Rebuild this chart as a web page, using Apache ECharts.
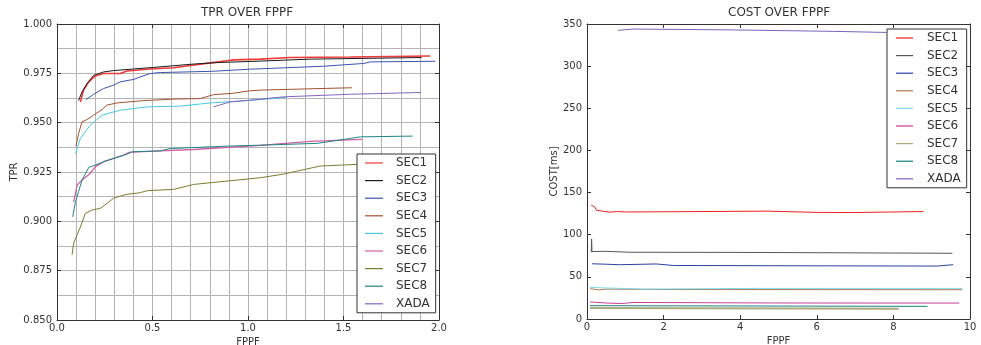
<!DOCTYPE html>
<html>
<head>
<meta charset="utf-8">
<title>TPR / COST over FPPF</title>
<script src="https://cdn.jsdelivr.net/npm/echarts@6/dist/echarts.min.js"></script>
<style>
  html, body { margin: 0; padding: 0; background: #fff; }
  #chart { width: 981px; height: 345px; }
</style>
</head>
<body>
<div id="chart"></div>
<script>
// ---- series names ----
const seriesNames = ['SEC1', 'SEC2', 'SEC3', 'SEC4', 'SEC5', 'SEC6', 'SEC7', 'SEC8', 'XADA'];

// ---- TPR over FPPF : [FPPF, TPR] ----
const tprSec1 = [[0.122,0.9605],[0.139,0.9665],[0.166,0.9707],[0.2,0.9737],[0.244,0.9749],[0.331,0.9749],[0.366,0.9762],[0.488,0.9772],[0.61,0.9778],[0.7,0.979],[0.803,0.9803],[0.89,0.9814],[0.925,0.9818],[1.064,0.9822],[1.221,0.983],[1.536,0.9833],[1.954,0.9838]];
const tprSec2 = [[0.113,0.9612],[0.131,0.9656],[0.157,0.9698],[0.192,0.974],[0.244,0.9757],[0.296,0.9764],[0.401,0.9772],[0.506,0.978],[0.715,0.9797],[0.85,0.9805],[1.064,0.9812],[1.326,0.9822],[1.909,0.983]];
const tprSec3 = [[0.152,0.9617],[0.192,0.9644],[0.244,0.9673],[0.296,0.969],[0.331,0.9707],[0.401,0.9719],[0.445,0.9735],[0.488,0.9749],[0.541,0.9754],[0.803,0.976],[1.012,0.9771],[1.396,0.9786],[1.606,0.98],[1.641,0.9808],[1.981,0.9811]];
const tprSec4 = [[0.099,0.9381],[0.113,0.9445],[0.131,0.9504],[0.157,0.9516],[0.192,0.9538],[0.236,0.9567],[0.262,0.9589],[0.314,0.96],[0.454,0.9612],[0.628,0.962],[0.75,0.9622],[0.82,0.9642],[0.925,0.9649],[0.995,0.966],[1.064,0.9665],[1.544,0.9677]];
const tprSec5 = [[0.097,0.9344],[0.122,0.942],[0.174,0.9487],[0.236,0.9538],[0.279,0.955],[0.331,0.9563],[0.471,0.958],[0.646,0.9584],[0.803,0.96],[1.0,0.9612],[1.2,0.9628]];
const tprSec6 = [[0.087,0.9099],[0.097,0.9142],[0.105,0.9184],[0.131,0.9209],[0.174,0.9243],[0.2,0.9276],[0.244,0.9302],[0.296,0.9319],[0.349,0.9336],[0.375,0.9349],[0.419,0.9352],[0.541,0.9357],[0.715,0.9364],[1.064,0.9385],[1.326,0.9405],[1.597,0.9415]];
const tprSec7 = [[0.079,0.883],[0.087,0.8889],[0.105,0.8931],[0.122,0.897],[0.148,0.904],[0.183,0.9057],[0.227,0.9066],[0.262,0.9091],[0.296,0.9117],[0.331,0.9128],[0.366,0.9137],[0.436,0.9145],[0.471,0.9155],[0.61,0.9162],[0.715,0.9187],[0.89,0.9204],[1.064,0.9221],[1.185,0.9239],[1.376,0.928],[1.603,0.929],[1.75,0.9295]];
const tprSec8 = [[0.082,0.9023],[0.097,0.9099],[0.113,0.915],[0.131,0.9209],[0.166,0.9273],[0.2,0.9285],[0.244,0.9302],[0.314,0.9324],[0.366,0.934],[0.392,0.9352],[0.541,0.9357],[0.593,0.9369],[0.89,0.9381],[1.064,0.9386],[1.361,0.9395],[1.536,0.942],[1.588,0.9428],[1.862,0.9432]];
const tprXada = [[0.819,0.958],[0.906,0.9605],[1.012,0.9614],[1.187,0.9631],[1.536,0.9644],[1.906,0.9653]];

// ---- COST over FPPF : [FPPF, cost in ms] ----
const costSec1 = [[0.11,135],[0.13,134],[0.16,135.5],[0.2,133],[0.24,133],[0.25,129],[0.4,128],[0.6,126.8],[0.8,127.5],[1.0,127],[2.0,127.2],[4.7,128],[6.0,126.5],[6.9,126.3],[8.78,127.5]];
const costSec2 = [[0.11,79],[0.12,95],[0.13,80],[0.16,81],[0.5,80.3],[1.1,79.2],[4.0,79],[9.54,78]];
const costSec3 = [[0.13,65.5],[0.5,65],[0.85,64.4],[1.81,65.3],[2.25,63.5],[4.77,63.2],[9.13,62.8],[9.56,64.4]];
const costSec4 = [[0.08,36],[0.3,34.5],[0.5,35.5],[2.0,35],[9.8,34.7]];
const costSec5 = [[0.08,37.5],[0.5,36.8],[1.5,35.5],[4.5,36.3],[9.8,36.3]];
const costSec6 = [[0.08,20.2],[0.5,19],[0.9,18.3],[1.2,19.6],[5.0,19],[9.72,18.9]];
const costSec7 = [[0.08,13],[8.14,12.2]];
const costSec8 = [[0.08,15.8],[8.89,15]];
const costXada = [[0.81,342.5],[1.2,344],[3.8,343],[6.4,341.3],[7.8,340],[9.5,339]];

// ---- colours ----
const tprColors  = ['#f03a3a', '#1a1a1a', '#3a52b0', '#a0522d', '#48c8dc', '#d060a8', '#7c7c30', '#1f8585', '#8064c0'];
const costColors = ['#ee1c1c', '#555555', '#2a3fa0', '#b0764e', '#7adcec', '#c83c98', '#aaaa7a', '#178080', '#7a62bc'];
const tprWidths  = [1.6, 1, 1, 1, 1, 1.3, 1, 1, 1];
const costWidths = [1, 1, 1, 1, 1, 1, 2, 1, 1];

const tprData  = [tprSec1, tprSec2, tprSec3, tprSec4, tprSec5, tprSec6, tprSec7, tprSec8, tprXada];
const costData = [costSec1, costSec2, costSec3, costSec4, costSec5, costSec6, costSec7, costSec8, costXada];

const FONT = 'DejaVu Sans';
const TXT = '#333';
const FRAME = '#333';

function frameAxis(common, extra) {
  return Object.assign({
    axisLine: { show: true, onZero: false, lineStyle: { color: FRAME, width: 1 } },
    axisTick: { show: true, inside: true, length: 4, lineStyle: { color: FRAME } },
    axisLabel: { show: false },
    splitLine: { show: false }
  }, common, extra);
}

const tprX = { type: 'value', min: 0, max: 2, interval: 0.5 };
const tprY = { type: 'value', min: 0.85, max: 1.0, interval: 0.025 };
const costX = { type: 'value', min: 0, max: 10, interval: 2 };
const costY = { type: 'value', min: 0, max: 350, interval: 50 };

const gridLine = { show: true, lineStyle: { color: '#b4b4b4', width: 1 } };

function legendData(colors) {
  return seriesNames.map((n, i) => ({ name: n, itemStyle: { color: colors[i] } }));
}

const option = {
  animation: false,
  textStyle: { fontFamily: FONT },
  title: [
    { text: 'TPR OVER FPPF', left: 201, top: 7, padding: 0,
      textStyle: { fontFamily: FONT, fontSize: 12, fontWeight: 'normal', color: TXT } },
    { text: 'COST OVER FPPF', left: 728, top: 7, padding: 0,
      textStyle: { fontFamily: FONT, fontSize: 12, fontWeight: 'normal', color: TXT } }
  ],
  grid: [
    { left: 57, right: 542, top: 24, bottom: 25, outerBoundsMode: 'none', containLabel: false },
    { left: 587, right: 11, top: 24, bottom: 26, outerBoundsMode: 'none', containLabel: false }
  ],
  xAxis: [
    frameAxis(tprX, {
      gridIndex: 0, position: 'bottom',
      name: 'FPPF', nameLocation: 'middle', nameGap: 16,
      nameTextStyle: { fontFamily: FONT, fontSize: 10, color: TXT },
      axisLabel: { show: true, margin: 3, fontFamily: FONT, fontSize: 10, color: TXT,
                   formatter: v => v.toFixed(1) },
      splitLine: gridLine,
      minorTick: { show: false, splitNumber: 5 },
      minorSplitLine: gridLine
    }),
    frameAxis(tprX, { gridIndex: 0, position: 'top' }),
    frameAxis(costX, {
      gridIndex: 1, position: 'bottom',
      name: 'FPPF', nameLocation: 'middle', nameGap: 16,
      nameTextStyle: { fontFamily: FONT, fontSize: 10, color: TXT },
      axisLabel: { show: true, margin: 3, fontFamily: FONT, fontSize: 10, color: TXT }
    }),
    frameAxis(costX, { gridIndex: 1, position: 'top' })
  ],
  yAxis: [
    frameAxis(tprY, {
      gridIndex: 0, position: 'left',
      name: 'TPR', nameLocation: 'middle', nameGap: 36,
      nameTextStyle: { fontFamily: FONT, fontSize: 10, color: TXT },
      axisLabel: { show: true, margin: 5, fontFamily: FONT, fontSize: 10, color: TXT,
                   formatter: v => v.toFixed(3) },
      splitLine: gridLine,
      minorTick: { show: false, splitNumber: 2 },
      minorSplitLine: gridLine
    }),
    frameAxis(tprY, { gridIndex: 0, position: 'right' }),
    frameAxis(costY, {
      gridIndex: 1, position: 'left',
      name: 'COST[ms]', nameLocation: 'middle', nameGap: 26,
      nameTextStyle: { fontFamily: FONT, fontSize: 10, color: TXT },
      axisLabel: { show: true, margin: 5, fontFamily: FONT, fontSize: 10, color: TXT }
    }),
    frameAxis(costY, { gridIndex: 1, position: 'right' })
  ],
  legend: [
    {
      orient: 'vertical', left: 357, top: 154,
      padding: [2, 6, 2, 8], itemGap: 3.6,
      itemWidth: 18, itemHeight: 1.2, icon: 'rect',
      backgroundColor: '#fff', borderColor: FRAME, borderWidth: 1, borderRadius: 0,
      textStyle: { fontFamily: FONT, fontSize: 12, color: TXT, lineHeight: 14, padding: [0, 0, 0, 8] },
      data: legendData(tprColors)
    },
    {
      orient: 'vertical', left: 887, top: 29,
      padding: [2, 6, 2, 9], itemGap: 3.6,
      itemWidth: 17, itemHeight: 1.2, icon: 'rect',
      backgroundColor: '#fff', borderColor: FRAME, borderWidth: 1, borderRadius: 0,
      textStyle: { fontFamily: FONT, fontSize: 12, color: TXT, lineHeight: 14, padding: [0, 0, 0, 9] },
      data: legendData(costColors)
    }
  ],
  series: []
};

seriesNames.forEach((name, i) => {
  option.series.push({
    name, type: 'line', xAxisIndex: 0, yAxisIndex: 0,
    data: tprData[i], showSymbol: false, symbol: 'none', z: 3,
    lineStyle: { color: tprColors[i], width: tprWidths[i] },
    itemStyle: { color: tprColors[i] }
  });
});
seriesNames.forEach((name, i) => {
  option.series.push({
    name, type: 'line', xAxisIndex: 2, yAxisIndex: 2,
    data: costData[i], showSymbol: false, symbol: 'none', z: 3,
    lineStyle: { color: costColors[i], width: costWidths[i] },
    itemStyle: { color: costColors[i] }
  });
});

const chart = echarts.init(document.getElementById('chart'), null, { renderer: 'canvas' });
chart.setOption(option);
</script>
</body>
</html>
